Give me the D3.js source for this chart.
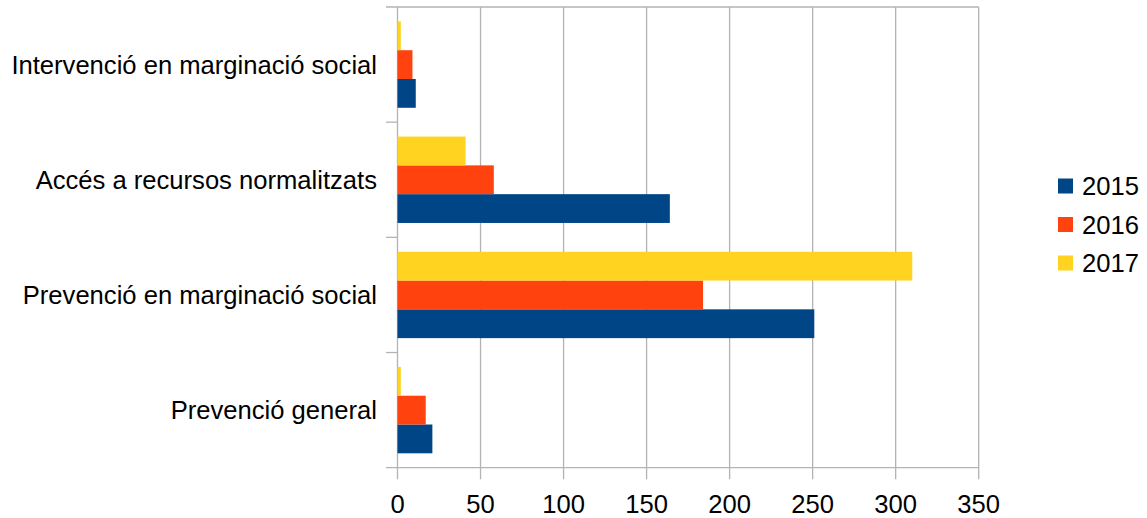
<!DOCTYPE html>
<html><head><meta charset="utf-8">
<script src="https://cdn.jsdelivr.net/npm/d3@7"></script>
<style>
html,body{margin:0;padding:0;background:#fff;}
text{font-family:"Liberation Sans",Arial,sans-serif;fill:#000;}
</style></head>
<body>
<svg id="c" width="1147" height="518"></svg>
<script>
const categories = ["Intervenció en marginació social","Accés a recursos normalitzats","Prevenció en marginació social","Prevenció general"];
const seriesNames = ["2015","2016","2017"];
const values2015 = [11, 164, 251, 21];
const values2016 = [9, 58, 184, 17];
const values2017 = [2, 41, 310, 2];
const xTicks = [0,50,100,150,200,250,300,350];
const colors = ["#004586","#ff420e","#ffd320"];

(function(){
const seriesValues = [values2015, values2016, values2017];
const svg = d3.select("#c");
const pLeft = 397.5, pRight = 978.7, pTop = 7, pBottom = 467.7;
const fs = 25.6;

const x = d3.scaleLinear().domain([0,350]).range([pLeft,pRight]);
const y = d3.scaleBand().domain(categories).range([pTop,pBottom]).padding(0);
const inner = d3.scaleBand().domain(["2017","2016","2015"]).range([0,y.bandwidth()]).paddingInner(0).paddingOuter(0.5);

const grid = "#b3b3b3";
svg.append("g").selectAll("line").data(xTicks).join("line")
  .attr("x1",d=>x(d)).attr("x2",d=>x(d)).attr("y1",pTop).attr("y2",pBottom+11.5)
  .attr("stroke",grid).attr("stroke-width",1.3);
svg.append("g").selectAll("line").data([pTop,pBottom]).join("line")
  .attr("x1",386).attr("x2",pRight).attr("y1",d=>d).attr("y2",d=>d)
  .attr("stroke",grid).attr("stroke-width",1.3);
const bounds = categories.slice(1).map(c=>y(c));
svg.append("g").selectAll("line").data(bounds).join("line")
  .attr("x1",386).attr("x2",pLeft).attr("y1",d=>d).attr("y2",d=>d)
  .attr("stroke",grid).attr("stroke-width",1.3);

seriesNames.forEach((s,si)=>{
  svg.append("g").selectAll("rect").data(categories).join("rect")
    .attr("x",x(0))
    .attr("y",(c)=>y(c)+inner(s))
    .attr("height",inner.bandwidth())
    .attr("width",(c,i)=>x(seriesValues[si][i])-x(0))
    .attr("fill",colors[si]);
});

svg.append("g").selectAll("text").data(xTicks).join("text")
  .attr("x",d=>x(d)).attr("y",513).attr("text-anchor","middle")
  .attr("font-size",fs).text(d=>d);

svg.append("g").selectAll("text").data(categories).join("text")
  .attr("x",377).attr("y",c=>y(c)+y.bandwidth()/2).attr("dy","0.35em")
  .attr("text-anchor","end").attr("font-size",fs).text(c=>c);

const lg = svg.append("g");
seriesNames.forEach((s,i)=>{
  const cy = 186 + i*38.5;
  lg.append("rect").attr("x",1058).attr("y",cy-7.5).attr("width",15).attr("height",15).attr("fill",colors[i]);
  lg.append("text").attr("x",1082).attr("y",cy+9.2).attr("font-size",fs).text(s);
});
})();
</script>
</body></html>
